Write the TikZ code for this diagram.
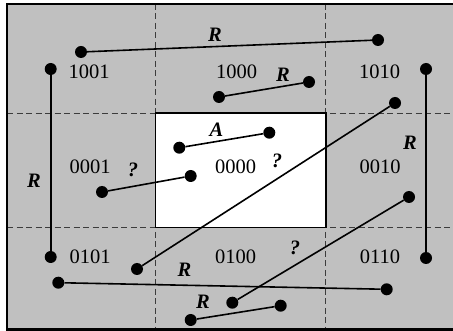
\documentclass[tikz,border=0pt]{standalone}
\usepackage{fontspec}
\setmainfont{Liberation Serif}
\definecolor{bggray}{RGB}{192,192,192}
\definecolor{dashgray}{RGB}{60,60,60}
\begin{document}
\begin{tikzpicture}[x=1pt,y=-1pt,
  dot/.style={circle,fill=black,inner sep=0pt,minimum size=12pt},
  lbl/.style={font=\fontsize{20.5}{24}\selectfont, inner sep=0pt},
  ital/.style={font=\fontsize{20.5}{24}\selectfont\bfseries\itshape, inner sep=0pt},
  conn/.style={line width=1.6pt},
  gridline/.style={dash pattern=on 6pt off 3.5pt, line width=1.2pt, draw=dashgray},
]
\useasboundingbox (0,0) rectangle (453,331);
% background
\fill[bggray] (7,4) rectangle (453,330);
\fill[white] (155.5,113.3) rectangle (325.7,227.7);
% grid
\draw[gridline] (155.5,4) -- (155.5,330);
\draw[gridline] (325.7,4) -- (325.7,330);
\draw[gridline] (7,113.3) -- (453,113.3);
\draw[gridline] (7,227.7) -- (453,227.7);
\draw[line width=1.6pt] (155.5,113.3) rectangle (325.7,227.7);
% frame
\draw[line width=2.2pt] (453,4.3) -- (7,4.3) -- (7,329.5) -- (453,329.5);
% region codes
\node[lbl] (c1001) at (89,72) {1001};
\node[lbl] (c1000) at (236.5,72) {1000};
\node[lbl] (c1010) at (379.5,72) {1010};
\node[lbl] (c0001) at (90,167) {0001};
\node[lbl] (c0000) at (235.5,167) {0000};
\node[lbl] (c0010) at (380,167) {0010};
\node[lbl] (c0101) at (90,256.7) {0101};
\node[lbl] (c0100) at (235.5,256.7) {0100};
\node[lbl] (c0110) at (380,256.7) {0110};
% segment labels
\node[ital] (r1) at (215,35) {R};
\node[ital] (r2) at (283,75) {R};
\node[ital] (r3) at (34,181) {R};
\node[ital] (r4) at (410,143) {R};
\node[ital] (r5) at (184.5,270) {R};
\node[ital] (r6) at (203,302) {R};
\node[ital] (la) at (216.5,130) {A};
\node[ital] (q1) at (133,170) {?};
\node[ital] (q2) at (277,161) {?};
\node[ital] (q3) at (295,248) {?};
% endpoints
\node[dot] (a1) at (81,52) {};
\node[dot] (a2) at (378,40) {};
\node[dot] (b1) at (50.7,69) {};
\node[dot] (b2) at (50.7,257) {};
\node[dot] (c1) at (219,97) {};
\node[dot] (c2) at (309,82) {};
\node[dot] (d1) at (426,69) {};
\node[dot] (d2) at (426,258) {};
\node[dot] (e1) at (179.3,147.7) {};
\node[dot] (e2) at (269.3,132.7) {};
\node[dot] (f1) at (102,192) {};
\node[dot] (f2) at (190.7,176) {};
\node[dot] (g1) at (395,103) {};
\node[dot] (g2) at (137,269) {};
\node[dot] (h1) at (58.3,282.7) {};
\node[dot] (h2) at (386.7,289.3) {};
\node[dot] (i1) at (409,197) {};
\node[dot] (i2) at (232.3,302.7) {};
\node[dot] (j1) at (190.7,320) {};
\node[dot] (j2) at (280.7,305.7) {};
% segments
\draw[conn] (a1) -- (a2);
\draw[conn] (b1) -- (b2);
\draw[conn] (c1) -- (c2);
\draw[conn] (d1) -- (d2);
\draw[conn] (e1) -- (e2);
\draw[conn] (f1) -- (f2);
\draw[conn] (g1) -- (g2);
\draw[conn] (h1) -- (h2);
\draw[conn] (i1) -- (i2);
\draw[conn] (j1) -- (j2);
\end{tikzpicture}
\end{document}
